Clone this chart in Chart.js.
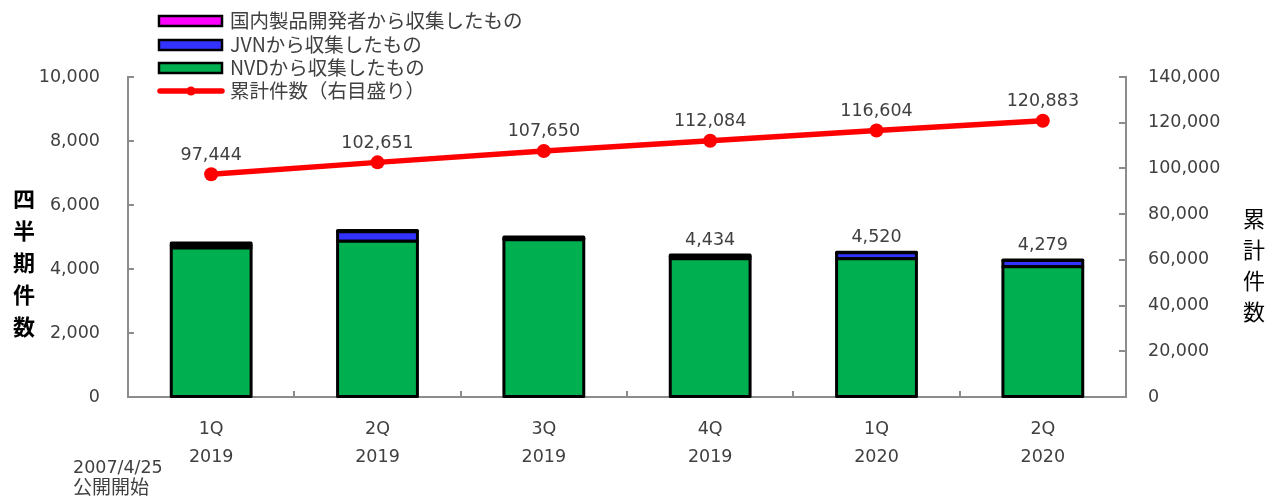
<!DOCTYPE html>
<html lang="ja">
<head>
<meta charset="utf-8">
<title>脆弱性対策情報の収集件数</title>
<script src="https://cdn.jsdelivr.net/npm/chart.js@4.4.1/dist/chart.umd.min.js"></script>
<style>
  html, body { margin: 0; padding: 0; background: #fff; }
  #wrap { position: relative; width: 1282px; height: 502px; }
</style>
</head>
<body>
<div id="wrap"><canvas id="vulnChart"></canvas></div>
<script>
// Quarter labels (two lines each)
const quarterLabels = [['1Q', '2019'], ['2Q', '2019'], ['3Q', '2019'], ['4Q', '2019'], ['1Q', '2020'], ['2Q', '2020']];

// Quarterly counts by source (stacked bars, left axis)
const nvdCounts = [4656, 4868, 4914, 4322, 4320, 4070];
const jvnCounts = [78, 297, 45, 70, 190, 199];
const domesticCounts = [76, 42, 40, 42, 10, 10];

// Which bars carry a total label
const showTotalLabel = [false, false, false, true, true, true];

// Cumulative count (line, right axis)
const cumulativeCounts = [97444, 102651, 107650, 112084, 116604, 120883];

// Legend / series names
const seriesNames = {
    domestic: '国内製品開発者から収集したもの',
    jvn: 'JVNから収集したもの',
    nvd: 'NVDから収集したもの',
    cumulative: '累計件数（右目盛り）'
};

const leftTitle = ['四', '半', '期', '件', '数'];
const rightTitle = ['累', '計', '件', '数'];
const startNote = ['2007/4/25', '公開開始'];

const NUM_FAMILY = '"DejaVu Sans", sans-serif';
const JP_FAMILY = '"Noto Sans CJK JP", sans-serif';
const TEXT_GRAY = '#404040';
const AXIS_GRAY = '#8c8c8c';

const fmt = v => v.toLocaleString('en-US');

// Excel-style outline: stroke centred on each segment edge, so thin segments turn black
const outlinePlugin = {
    id: 'outline',
    afterDatasetDraw(chart, args) {
        if (args.meta.type !== 'bar') return;
        const ctx = chart.ctx;
        ctx.save();
        ctx.strokeStyle = '#000';
        ctx.lineWidth = 3;
        ctx.lineJoin = 'round';
        args.meta.data.forEach(bar => {
            const p = bar.getProps(['x', 'y', 'base', 'width']);
            const top = Math.min(p.y, p.base);
            ctx.strokeRect(p.x - p.width / 2, top, p.width, Math.abs(p.base - p.y));
        });
        ctx.restore();
    }
};

// Draws inside tick marks, axis titles, data labels, note and legend
const decorPlugin = {
    id: 'decor',
    afterDraw(chart) {
        const ctx = chart.ctx;
        const area = chart.chartArea;
        const xs = chart.scales.x, ys = chart.scales.y, y1 = chart.scales.y1;
        ctx.save();

        // inside tick marks
        ctx.strokeStyle = AXIS_GRAY;
        ctx.lineWidth = 2;
        ctx.beginPath();
        ys.ticks.forEach(t => {
            const py = Math.round(ys.getPixelForValue(t.value));
            ctx.moveTo(area.left, py); ctx.lineTo(area.left + 6, py);
        });
        y1.ticks.forEach(t => {
            const py = Math.round(y1.getPixelForValue(t.value));
            ctx.moveTo(area.right, py); ctx.lineTo(area.right - 7, py);
        });
        for (let i = 1; i < quarterLabels.length; i++) {
            const px = Math.round((xs.getPixelForValue(i - 1) + xs.getPixelForValue(i)) / 2);
            ctx.moveTo(px, area.bottom); ctx.lineTo(px, area.bottom - 6);
        }
        ctx.stroke();

        // axis titles
        ctx.fillStyle = '#000';
        ctx.textAlign = 'center';
        ctx.textBaseline = 'middle';
        ctx.font = 'bold 22px ' + JP_FAMILY;
        leftTitle.forEach((ch, i) => ctx.fillText(ch, 24, 199 + i * 32));
        ctx.font = '22px ' + JP_FAMILY;
        rightTitle.forEach((ch, i) => ctx.fillText(ch, 1254, 219 + i * 31));

        // cumulative labels
        ctx.fillStyle = TEXT_GRAY;
        ctx.font = '17.5px ' + NUM_FAMILY;
        const lineMeta = chart.getDatasetMeta(3);
        lineMeta.data.forEach((pt, i) => {
            ctx.fillText(fmt(cumulativeCounts[i]), pt.x, pt.y - 19);
        });

        // bar total labels
        const topMeta = chart.getDatasetMeta(2);
        topMeta.data.forEach((bar, i) => {
            if (!showTotalLabel[i]) return;
            const total = nvdCounts[i] + jvnCounts[i] + domesticCounts[i];
            ctx.fillText(fmt(total), bar.x, bar.y - 15);
        });

        // start note
        ctx.textAlign = 'left';
        ctx.fillText(startNote[0], 73, 468);
        ctx.font = '19px ' + JP_FAMILY;
        ctx.fillText(startNote[1], 73, 487);

        // legend
        const order = [2, 1, 0, 3];
        const rowY = [21, 45, 68, 91];
        order.forEach((dsIndex, r) => {
            const ds = chart.data.datasets[dsIndex];
            const y = rowY[r];
            if (ds.type === 'line') {
                ctx.strokeStyle = ds.borderColor;
                ctx.lineWidth = 5.5;
                ctx.lineCap = 'round';
                ctx.beginPath();
                ctx.moveTo(160, y); ctx.lineTo(222, y);
                ctx.stroke();
                ctx.fillStyle = ds.borderColor;
                ctx.beginPath();
                ctx.arc(191, y, 4.5, 0, Math.PI * 2);
                ctx.fill();
            } else {
                ctx.fillStyle = ds.backgroundColor;
                ctx.fillRect(159, y - 5, 63, 10);
                ctx.strokeStyle = '#000';
                ctx.lineWidth = 2.5;
                ctx.strokeRect(159, y - 5, 63, 10);
            }
            ctx.fillStyle = TEXT_GRAY;
            ctx.font = '19.5px ' + JP_FAMILY;
            ctx.textAlign = 'left';
            ctx.textBaseline = 'middle';
            ctx.fillText(ds.label, 230, y);
        });

        ctx.restore();
    }
};

const barStyle = {
    borderWidth: 0,
    barPercentage: 0.48,
    categoryPercentage: 1.0,
    yAxisID: 'y',
    order: 1
};

const ctx = document.getElementById('vulnChart').getContext('2d');
const vulnChart = new Chart(ctx, {
    type: 'bar',
    data: {
        labels: quarterLabels,
        datasets: [
            Object.assign({ label: seriesNames.nvd, data: nvdCounts, backgroundColor: '#00B050' }, barStyle),
            Object.assign({ label: seriesNames.jvn, data: jvnCounts, backgroundColor: '#3333FF' }, barStyle),
            Object.assign({ label: seriesNames.domestic, data: domesticCounts, backgroundColor: '#FF00FF' }, barStyle),
            {
                type: 'line',
                label: seriesNames.cumulative,
                data: cumulativeCounts,
                yAxisID: 'y1',
                borderColor: '#FF0000',
                backgroundColor: '#FF0000',
                borderWidth: 5.5,
                pointRadius: 7,
                pointBackgroundColor: '#FF0000',
                pointBorderColor: '#FF0000',
                pointBorderWidth: 0,
                tension: 0,
                order: 0
            }
        ]
    },
    options: {
        responsive: true,
        maintainAspectRatio: false,
        animation: false,
        layout: { padding: { top: 77, left: 0, right: 0, bottom: 0 } },
        plugins: {
            legend: { display: false },
            tooltip: { enabled: false }
        },
        scales: {
            x: {
                stacked: true,
                offset: true,
                grid: { display: true, drawOnChartArea: false, drawTicks: false },
                border: { display: true, color: AXIS_GRAY, width: 2 },
                ticks: {
                    color: TEXT_GRAY,
                    font: { family: NUM_FAMILY, size: 17.5, lineHeight: 1.6 },
                    padding: 18,
                    maxRotation: 0,
                    autoSkip: false
                },
                afterFit: s => { s.height = 105; }
            },
            y: {
                stacked: true,
                position: 'left',
                min: 0,
                max: 10000,
                grid: { display: true, drawOnChartArea: false, drawTicks: false },
                border: { display: true, color: AXIS_GRAY, width: 2 },
                ticks: {
                    stepSize: 2000,
                    color: TEXT_GRAY,
                    font: { family: NUM_FAMILY, size: 17.5 },
                    padding: 28,
                    callback: v => fmt(v)
                },
                afterFit: s => { s.width = 128; }
            },
            y1: {
                position: 'right',
                min: 0,
                max: 140000,
                grid: { display: true, drawOnChartArea: false, drawTicks: false },
                border: { display: true, color: AXIS_GRAY, width: 2 },
                ticks: {
                    stepSize: 20000,
                    color: TEXT_GRAY,
                    font: { family: NUM_FAMILY, size: 17.5 },
                    padding: 22,
                    callback: v => fmt(v)
                },
                afterFit: s => { s.width = 156; }
            }
        }
    },
    plugins: [outlinePlugin, decorPlugin]
});
</script>
</body>
</html>
